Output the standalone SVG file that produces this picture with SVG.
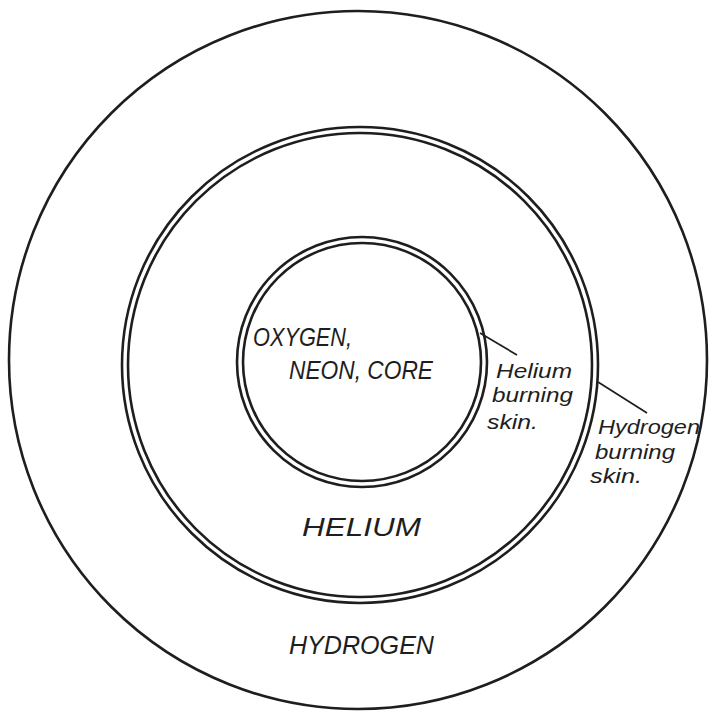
<svg xmlns="http://www.w3.org/2000/svg" width="710" height="713" viewBox="0 0 710 713">
<style>
.ring{fill:none;stroke:#1e1e1e;stroke-width:2.6}
.lead{fill:none;stroke:#1e1e1e;stroke-width:1.7}
.t{font-family:"Liberation Sans","DejaVu Sans",sans-serif;font-style:italic;fill:#1e1e1e}
.big{font-size:25px}
.small{font-size:21px}
</style>
<rect width="710" height="713" fill="#ffffff"/>
<g id="hydrogen-shell">
<circle class="ring" cx="358" cy="360" r="349"/>
<text class="t big" x="289" y="654" textLength="145" lengthAdjust="spacingAndGlyphs">HYDROGEN</text>
</g>
<g id="hydrogen-burning-skin">
<circle class="ring" cx="360" cy="365" r="238"/>
<circle class="ring" cx="360" cy="365" r="232"/>
</g>
<g id="helium-shell">
<text class="t big" x="302" y="536" textLength="119" lengthAdjust="spacingAndGlyphs">HELIUM</text>
</g>
<g id="helium-burning-skin">
<circle class="ring" cx="362" cy="362" r="125"/>
<circle class="ring" cx="362" cy="362" r="119"/>
</g>
<g id="core">
<text class="t big" x="253" y="346" textLength="99" lengthAdjust="spacingAndGlyphs">OXYGEN,</text>
<text class="t big" x="289" y="379" textLength="144" lengthAdjust="spacingAndGlyphs">NEON, CORE</text>
</g>
<g id="connectors">
<line class="lead" x1="480" y1="333" x2="517" y2="355"/>
<line class="lead" x1="598" y1="382" x2="647" y2="413"/>
</g>
<g id="helium-skin-label">
<text class="t small" x="496" y="378" textLength="76" lengthAdjust="spacingAndGlyphs">Helium</text>
<text class="t small" x="492" y="402" textLength="81" lengthAdjust="spacingAndGlyphs">burning</text>
<text class="t small" x="487" y="429" textLength="51" lengthAdjust="spacingAndGlyphs">skin.</text>
</g>
<g id="hydrogen-skin-label">
<text class="t small" x="598" y="434" textLength="102" lengthAdjust="spacingAndGlyphs">Hydrogen</text>
<text class="t small" x="595" y="458.5" textLength="80" lengthAdjust="spacingAndGlyphs">burning</text>
<text class="t small" x="590" y="483" textLength="52" lengthAdjust="spacingAndGlyphs">skin.</text>
</g>
</svg>
